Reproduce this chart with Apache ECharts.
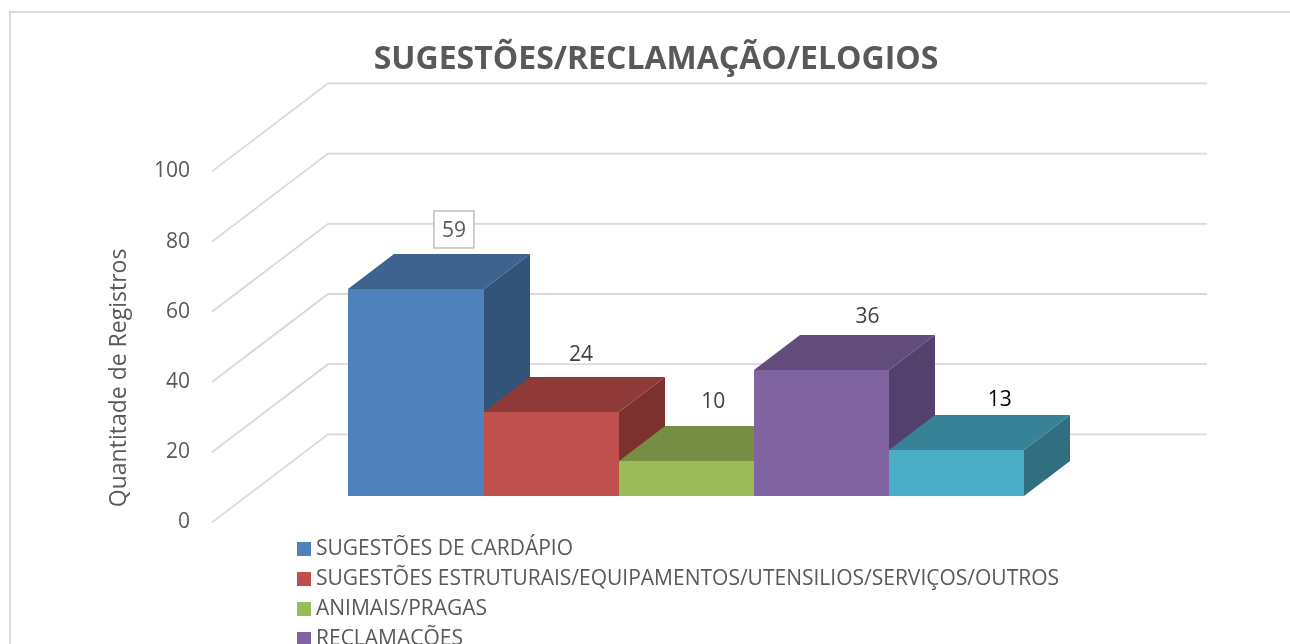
<!DOCTYPE html>
<html>
<head>
<meta charset="utf-8">
<style>html,body{margin:0;padding:0;background:#fff}#c{width:1290px;height:644px}</style>
<script src="https://cdn.jsdelivr.net/npm/echarts@6/dist/echarts.min.js"></script>
</head>
<body>
<div id="c"></div>
<script>
const categories = ['SUGESTÕES DE CARDÁPIO','SUGESTÕES ESTRUTURAIS/EQUIPAMENTOS/UTENSILIOS/SERVIÇOS/OUTROS','ANIMAIS/PRAGAS','RECLAMAÇÕES','ELOGIOS'];
const values = [59,24,10,36,13];
const legendNames = categories.slice(0,4);
const wallTicks = [0,20,40,60,80,100];
const frontColors = ['#4F81BD','#C0504D','#9BBB59','#8064A2','#4BACC6'];
const topColors = ['#3E638F','#8F3A38','#758E43','#624C7C','#388297'];
const sideColors = ['#325479','#7D312F','#667C3A','#54406C','#316F80'];
const labelColors = ['#595959','#404040','#404040','#404040','#000000'];
const labelNudge = [[38,-58],[30,-57],[27,-59],[46,-53],[43,-50]];
const FONT = '"Open Sans", sans-serif';
const DEPTH_X = 46, DEPTH_Y = 35, WALL_X = 116, WALL_Y = 88;

function bar3d(idx){
  return function(params, api){
    const p = api.coord([api.value(0), api.value(1)]);
    const base = api.coord([api.value(0), 0]);
    const w = api.size([1,0])[0];
    const l = Math.round(p[0]-w/2), r = Math.round(p[0]+w/2), t = Math.round(p[1]), b = Math.round(base[1]);
    const nudge = labelNudge[idx];
    const lx = p[0]+nudge[0], ly = p[1]+nudge[1];
    const children = [
      {type:'polygon',shape:{points:[[r,t],[r+DEPTH_X,t-DEPTH_Y],[r+DEPTH_X,b-DEPTH_Y],[r,b]]},style:{fill:sideColors[idx]}},
      {type:'polygon',shape:{points:[[l,t],[l+DEPTH_X,t-DEPTH_Y],[r+DEPTH_X,t-DEPTH_Y],[r,t]]},style:{fill:topColors[idx]}},
      {type:'rect',shape:{x:l,y:t,width:r-l,height:b-t},style:{fill:frontColors[idx]}}
    ];
    if(idx===0){
      children.push({type:'rect',shape:{x:lx-20,y:ly-20,width:40,height:37},style:{fill:'#fff',stroke:'#BFBFBF',lineWidth:1.5}});
    }
    children.push({type:'text',style:{text:String(api.value(1)),x:lx,y:ly,align:'center',verticalAlign:'middle',fill:labelColors[idx],font:'21px '+FONT}});
    return {type:'group',children};
  };
}

const series = [{
  type:'custom',name:'walls',xAxisIndex:0,yAxisIndex:0,silent:true,clip:false,
  data:wallTicks.map(v=>[0,v]),
  encode:{x:0,y:1},
  renderItem(params,api){
    const cs = params.coordSys;
    const y = api.coord([0,api.value(1)])[1];
    return {type:'polyline',shape:{points:[[cs.x,y],[cs.x+WALL_X,y-WALL_Y],[cs.x+cs.width,y-WALL_Y]]},style:{fill:'none',stroke:'#D9D9D9',lineWidth:1.8}};
  }
}];
categories.forEach((name,i)=>{
  series.push({
    type:'custom',name,xAxisIndex:1,yAxisIndex:1,silent:true,clip:false,
    itemStyle:{color:frontColors[i]},
    data:[[i,values[i]]],
    encode:{x:0,y:1},
    renderItem:bar3d(i)
  });
});

const chart = echarts.init(document.getElementById('c'),null,{renderer:'canvas'});
chart.setOption({
  animation:false,
  backgroundColor:'#fff',
  title:{text:'SUGESTÕES/RECLAMAÇÃO/ELOGIOS',left:651,top:39,textAlign:'center',textStyle:{fontFamily:FONT,fontSize:32,fontWeight:'bold',color:'#595959'}},
  legend:{data:legendNames,orient:'vertical',left:292,top:532,height:125,width:900,icon:'rect',itemWidth:14,itemHeight:14,itemGap:6,selectedMode:false,
    textStyle:{fontFamily:FONT,fontSize:21,color:'#595959',lineHeight:24}},
  grid:[
    {left:212,top:171.4,width:995,height:351},
    {left:348.3,top:145,width:676,height:351}
  ],
  xAxis:[
    {type:'category',gridIndex:0,show:false,data:['']},
    {type:'category',gridIndex:1,show:false,data:categories}
  ],
  yAxis:[
    {type:'value',gridIndex:0,min:0,max:100,interval:20,
      axisLine:{show:false},axisTick:{show:false},splitLine:{show:false},
      axisLabel:{margin:22,fontFamily:FONT,fontSize:21,color:'#595959'},
      name:'Quantitade de Registros',nameLocation:'middle',nameRotate:90,nameGap:81,
      nameTextStyle:{fontFamily:FONT,fontSize:23,color:'#595959',padding:[0,62,0,0]}},
    {type:'value',gridIndex:1,min:0,max:100,show:false}
  ],
  series,
  graphic:[{type:'polyline',silent:true,shape:{points:[[1290,12],[10,12],[10,644]]},style:{fill:'none',stroke:'#D9D9D9',lineWidth:2}}]
});
</script>
</body>
</html>
